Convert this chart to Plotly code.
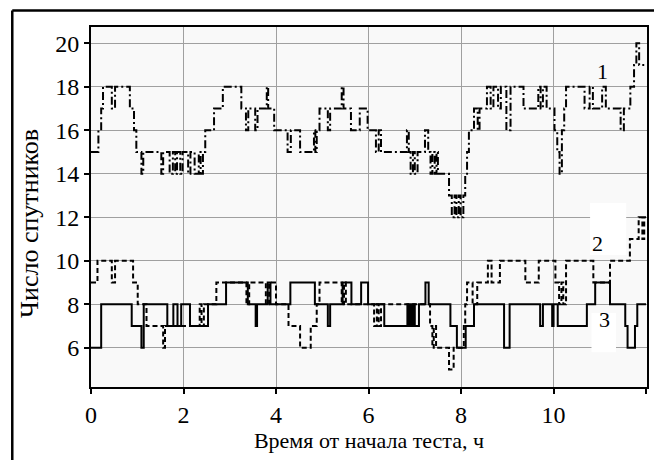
import plotly.graph_objects as go

# Series 1 (dash-dot): change times (h) and satellite counts
t1 = [0, 0.16, 0.22, 0.26, 0.45, 0.52, 0.84, 0.93, 0.98, 1.09, 1.13, 1.52, 1.56, 1.70, 1.77, 1.82,
      1.86, 1.93, 1.98, 2.10, 2.15, 2.24, 2.33, 2.37, 2.42, 2.47, 2.66, 2.85, 3.25, 3.35, 3.40, 3.55,
      3.60, 3.80, 3.83, 3.96, 4.25, 4.32, 4.52, 4.82, 4.85, 4.88, 4.94, 5.12, 5.17, 5.42, 5.46, 5.62,
      5.81, 5.98, 6.16, 6.22, 6.27, 6.83, 6.87, 6.91, 6.96, 7.00, 7.06, 7.22, 7.29, 7.34, 7.38, 7.43,
      7.47, 7.50, 7.74, 7.80, 7.86, 7.90, 7.95, 7.99, 8.05, 8.09, 8.13, 8.17, 8.28, 8.36, 8.40, 8.56,
      8.64, 8.70, 8.80, 8.86, 8.98, 9.07, 9.35, 9.67, 9.72, 9.77, 9.85, 10.02, 10.08,
      10.13, 10.18, 10.23, 10.27, 10.67, 10.78, 10.85, 11.05, 11.13, 11.45, 11.52, 11.66, 11.74,
      11.79, 11.85, 11.96, 12.0]
v1 = [15, 16, 17, 18, 17, 18, 17, 16, 15, 14, 15, 14, 15, 14, 15, 14,
      15, 14, 15, 14, 15, 14, 15, 14, 15, 16, 17, 18, 17, 16, 17, 16,
      17, 18, 17, 16, 15, 16, 15, 16, 15, 16, 17, 16, 17, 18, 17, 16,
      17, 16, 15, 16, 15, 16, 15, 14, 15, 14, 15, 16, 15, 14, 15, 14,
      15, 14, 13, 12, 13, 12, 13, 12, 13, 14, 15, 16, 17, 16, 17, 18,
      17, 18, 17, 18, 16, 18, 17, 18, 17, 18, 17, 16,
      15, 14, 16, 17, 18, 17, 18, 17, 18, 17, 16, 17, 18,
      19, 20, 19, 19]

# Series 2 (dashed)
t2 = [0, 0.14, 0.45, 0.52, 0.91, 1.01, 1.20, 1.56, 1.60, 2.35, 2.39, 2.44, 2.71, 3.36, 3.42, 3.78,
      3.85, 4.00, 4.27, 4.52, 4.75, 4.88, 4.94, 5.42, 5.47, 5.51, 6.12, 6.18, 6.22, 6.27, 7.33, 7.38,
      7.41, 7.46, 7.74, 7.84, 8.06, 8.09, 8.13, 8.25, 8.35, 8.58, 8.66, 8.84, 9.39, 9.68, 10.04,
      10.12, 10.17, 10.21, 10.27, 10.86, 11.22, 11.65, 11.84, 11.92, 11.96, 12.0]
v2 = [9, 10, 9, 10, 9, 8, 7, 6, 7, 8, 7, 8, 9, 8, 9, 8,
      9, 8, 7, 6, 7, 8, 9, 8, 9, 8, 7, 8, 7, 8, 7, 6,
      7, 6, 5, 6, 7, 8, 9, 8, 9, 10, 9, 10, 9, 10, 9,
      8, 9, 8, 10, 9, 10, 11, 12, 11, 12, 12]

# Series 3 (solid)
t3 = [0, 0.22, 0.88, 1.09, 1.14, 1.65, 1.78, 1.87, 1.95, 2.14, 2.53, 2.92, 3.39, 3.56, 3.59, 3.82,
      3.88, 4.31, 4.84, 5.12, 5.17, 5.44, 5.63, 5.84, 5.99, 6.34, 6.84, 6.87, 6.90, 6.93, 6.97, 7.00,
      7.09, 7.23, 7.30, 7.77, 7.91, 8.10, 8.28, 8.93, 9.05, 9.71, 9.77, 9.97, 10.00, 10.09, 10.72,
      10.90, 11.22, 11.55, 11.60, 11.76, 11.81, 12.0]
v3 = [6, 8, 7, 6, 8, 7, 8, 7, 8, 7, 8, 9, 8, 7, 8, 9,
      8, 9, 8, 7, 8, 9, 8, 9, 8, 7, 8, 7, 8, 7, 8, 7,
      8, 9, 8, 7, 6, 7, 8, 6, 8, 7, 8, 7, 8, 7, 8,
      9, 8, 7, 6, 7, 8, 8]

x_ticks = [0, 2, 4, 6, 8, 10, 12]
y_ticks = [6, 8, 10, 12, 14, 16, 18, 20]
series_labels = ["1", "2", "3"]
x_title = "Время от начала теста, ч"
y_title = "Число спутников"

FONT = "Liberation Serif, Times New Roman, serif"

fig = go.Figure()
fig.add_trace(go.Scatter(x=t1, y=v1, mode="lines", line=dict(shape="hv", color="black", width=2,
                         dash="8px,3px,2px,3px"), showlegend=False))
fig.add_trace(go.Scatter(x=t2, y=v2, mode="lines", line=dict(shape="hv", color="black", width=2,
                         dash="5px,3px"), showlegend=False))
fig.add_trace(go.Scatter(x=t3, y=v3, mode="lines", line=dict(shape="hv", color="black", width=2),
                         showlegend=False))

# white label boxes
fig.add_shape(type="rect", xref="x", yref="y", x0=10.79, x1=11.57, y0=10.27, y1=12.66,
              fillcolor="white", line=dict(width=0), layer="between")
fig.add_shape(type="rect", xref="x", yref="y", x0=10.82, x1=11.35, y0=5.8, y1=7.6,
              fillcolor="white", line=dict(width=0), layer="between")

fig.add_annotation(x=11.05, y=18.7, text=series_labels[0], showarrow=False,
                   font=dict(family=FONT, size=22, color="black"))
fig.add_annotation(x=10.95, y=10.8, text=series_labels[1], showarrow=False,
                   font=dict(family=FONT, size=22, color="black"))
fig.add_annotation(x=11.1, y=7.3, text=series_labels[2], showarrow=False,
                   font=dict(family=FONT, size=22, color="black"))

# y-axis title as annotation (positioned as in the reference)
fig.add_annotation(xref="paper", yref="paper", x=-0.112, y=0.455, text=y_title, textangle=-90,
                   showarrow=False, xanchor="center", yanchor="middle",
                   font=dict(family=FONT, size=26, color="black"))

# outer frame (left and top edges)
fig.add_shape(type="line", xref="paper", yref="paper", x0=-0.1416, x1=-0.1416, y0=1.046, y1=-0.25,
              line=dict(color="black", width=2.5))
fig.add_shape(type="line", xref="paper", yref="paper", x0=-0.1416, x1=1.05, y0=1.046, y1=1.046,
              line=dict(color="black", width=2.5))

fig.update_layout(
    width=654, height=460,
    margin=dict(l=91, r=5, t=27, b=73),
    paper_bgcolor="white", plot_bgcolor="#f9f9f9",
    font=dict(family=FONT, size=22, color="black"),
)
fig.update_xaxes(range=[0, 12.02], tickvals=x_ticks, ticks="outside", ticklen=5, tickwidth=1.5,
                 tickcolor="black", showline=True, linecolor="black", linewidth=2, mirror=True,
                 showgrid=True, gridcolor="#a0a0a0", gridwidth=1, zeroline=False,
                 title=dict(text=x_title, font=dict(size=22), standoff=2),
                 tickfont=dict(size=24))
fig.update_yaxes(range=[4.2, 20.75], tickvals=y_ticks, ticks="outside", ticklen=5, tickwidth=1.5,
                 tickcolor="black", showline=True, linecolor="black", linewidth=2, mirror=True,
                 showgrid=True, gridcolor="#a0a0a0", gridwidth=1, zeroline=False,
                 tickfont=dict(size=24))

fig.write_html("out.html")
